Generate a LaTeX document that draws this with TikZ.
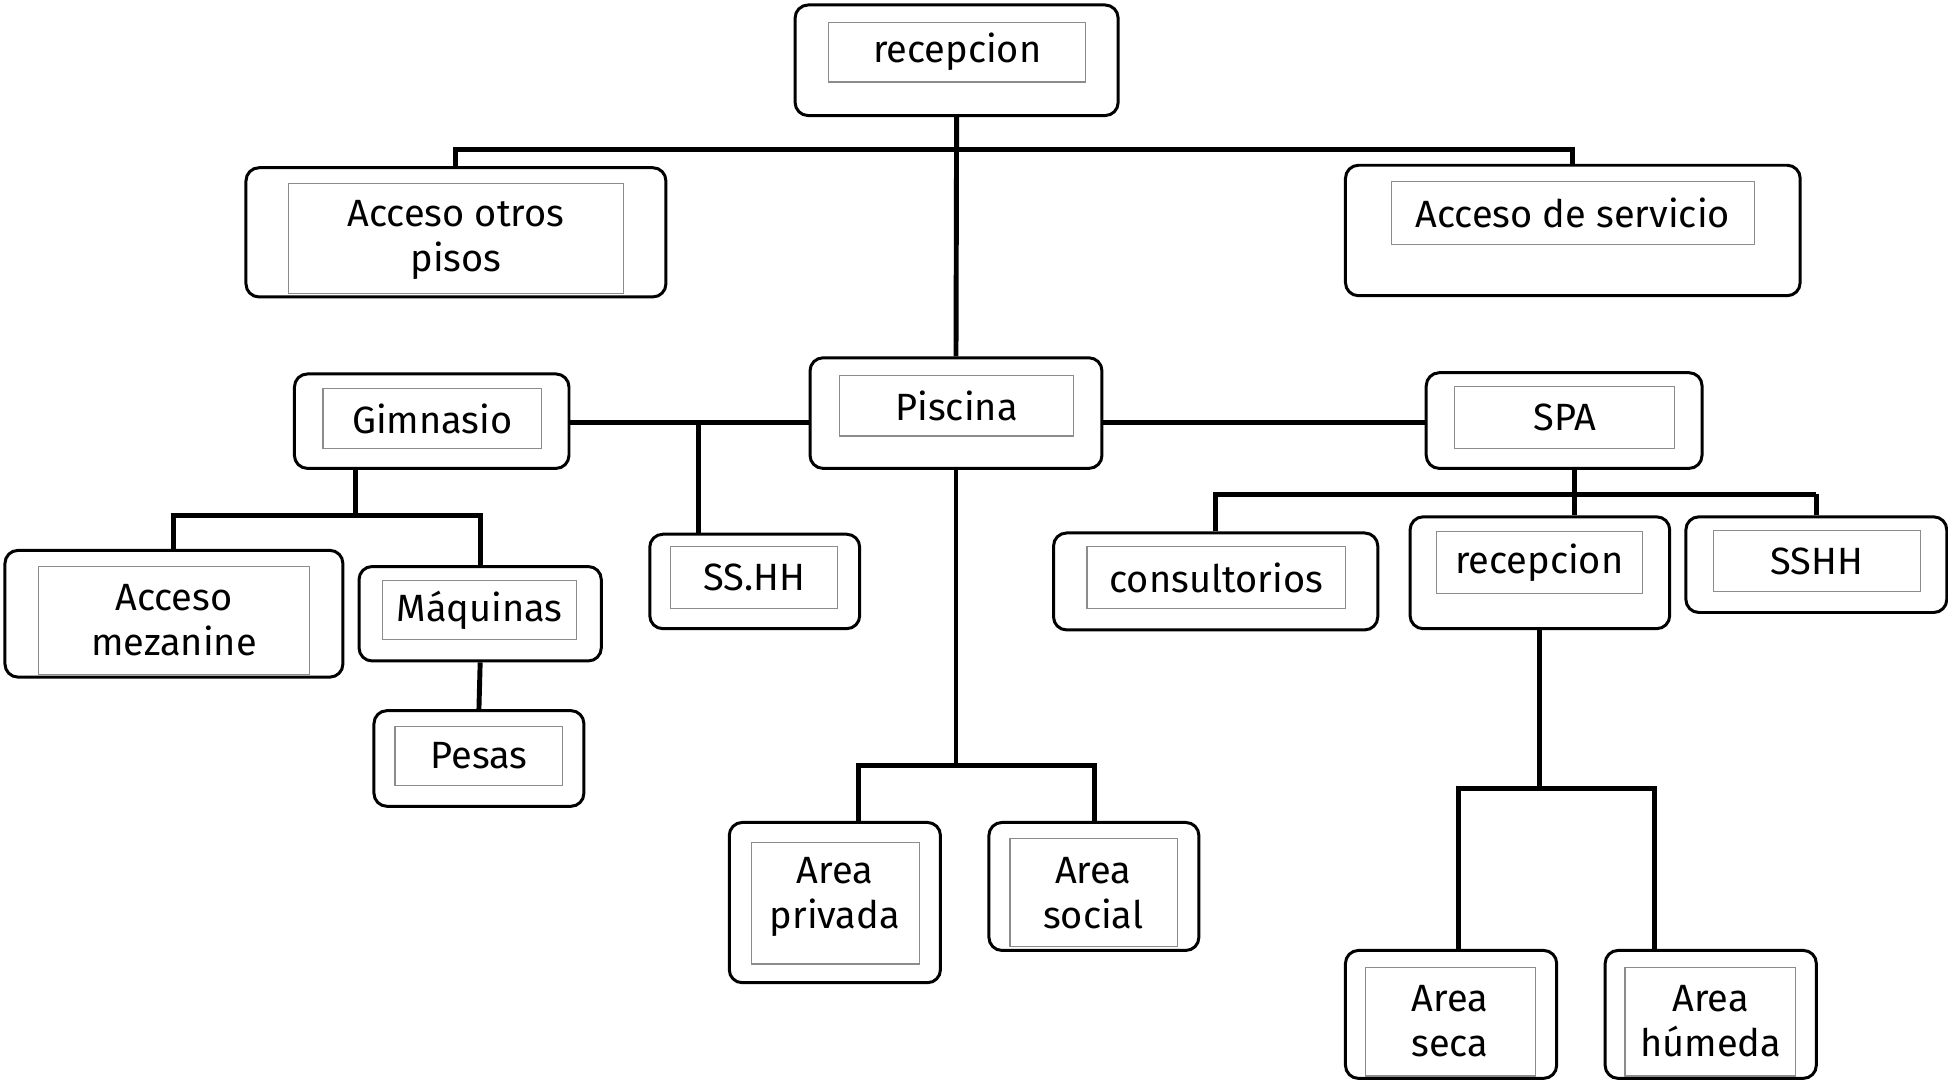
\documentclass[tikz,border=0pt]{standalone}
\usepackage{fontspec}
\setmainfont{Fira Sans}
\usepackage{tikz}
\usetikzlibrary{fit}

\begin{document}
\begin{tikzpicture}[x=0.012423cm,y=-0.012423cm]
\tikzstyle{every node}+=[inner sep=0pt]
\tikzstyle{caja}=[draw=black, line width=0.85pt, rounded corners=0.13cm]
\tikzstyle{marco}=[draw=black!45, line width=0.35pt]
\tikzstyle{texto}=[align=center, font=\fontsize{10.8}{12.7}\selectfont]
\tikzstyle{linea}=[black, line width=1.4pt]
\useasboundingbox (0,0) rectangle (1568,871);
% cajas
\node [caja, fit={(640,4) (900,93)}] (rec) {};
\node [marco, fit={(667,18) (874,66)}] (recM) {};
\node [texto] (recT) at (recM) {recepcion};
\node [caja, fit={(198,135) (536,239)}] (aop) {};
\node [marco, fit={(232,148) (502,236)}] (aopM) {};
\node [texto] (aopT) at (367,193) {Acceso otros\\pisos};
\node [caja, fit={(1083,133) (1449,238)}] (ser) {};
\node [marco, fit={(1120,146) (1412,197)}] (serM) {};
\node [texto] (serT) at (serM) {Acceso de servicio};
\node [caja, fit={(652,288) (887,377)}] (pis) {};
\node [marco, fit={(676,302) (864,351)}] (pisM) {};
\node [texto] (pisT) at (pisM) {Piscina};
\node [caja, fit={(237,301) (458,377)}] (gim) {};
\node [marco, fit={(260,313) (436,361)}] (gimM) {};
\node [texto] (gimT) at (gimM) {Gimnasio};
\node [caja, fit={(1148,300) (1370,377)}] (spa) {};
\node [marco, fit={(1171,311) (1348,361)}] (spaM) {};
\node [texto] (spaT) at (spaM) {SPA};
\node [caja, fit={(4,443) (276,545)}] (mez) {};
\node [marco, fit={(31,456) (249,543)}] (mezM) {};
\node [texto] (mezT) at (140,499) {Acceso\\mezanine};
\node [caja, fit={(289,456) (484,532)}] (maq) {};
\node [marco, fit={(308,467) (464,515)}] (maqM) {};
\node [texto] (maqT) at (maqM) {Máquinas};
\node [caja, fit={(301,572) (470,649)}] (pes) {};
\node [marco, fit={(318,585) (453,632)}] (pesM) {};
\node [texto] (pesT) at (pesM) {Pesas};
\node [caja, fit={(523,430) (692,506)}] (ssh) {};
\node [marco, fit={(540,440) (674,490)}] (sshM) {};
\node [texto] (sshT) at (sshM) {SS.HH};
\node [caja, fit={(848,429) (1109,507)}] (con) {};
\node [marco, fit={(875,440) (1083,490)}] (conM) {};
\node [texto] (conT) at (conM) {consultorios};
\node [caja, fit={(1135,416) (1344,506)}] (rsp) {};
\node [marco, fit={(1156,428) (1322,478)}] (rspM) {};
\node [texto] (rspT) at (rspM) {recepcion};
\node [caja, fit={(1357,416) (1567,493)}] (sshb) {};
\node [marco, fit={(1379,427) (1546,476)}] (sshbM) {};
\node [texto] (sshbT) at (sshbM) {SSHH};
\node [caja, fit={(587,662) (757,791)}] (apr) {};
\node [marco, fit={(605,678) (740,776)}] (aprM) {};
\node [texto] (aprT) at (672,722) {Area\\privada};
\node [caja, fit={(796,662) (965,765)}] (aso) {};
\node [marco, fit={(813,675) (948,762)}] (asoM) {};
\node [texto] (asoT) at (880,719) {Area\\social};
\node [caja, fit={(1083,765) (1253,868)}] (ase) {};
\node [marco, fit={(1099,779) (1236,866)}] (aseM) {};
\node [texto] (aseT) at (1167,822) {Area\\seca};
\node [caja, fit={(1292,765) (1462,868)}] (ahu) {};
\node [marco, fit={(1308,779) (1445,866)}] (ahuM) {};
\node [texto] (ahuT) at (1377,822) {Area\\húmeda};
% uniones
\coordinate (j1) at (770,120);
\coordinate (j2) at (562,340);
\coordinate (j3) at (286,415);
\coordinate (j4l) at (691,616);
\coordinate (j4r) at (881,616);
\coordinate (j5) at (1267,398);
\coordinate (j6l) at (1174,635);
\coordinate (j6r) at (1332,635);
% lineas
\draw [linea] (rec.south) -- (pis.north);
\draw [linea] (aop.north) |- (j1) -| (ser.north);
\draw [linea] (gim.east |- j2) -- (pis.west |- j2);
\draw [linea] (j2) -- (j2 |- ssh.north);
\draw [linea] (pis.east |- j2) -- (spa.west |- j2);
\draw [linea] (j3 |- gim.south) -- (j3);
\draw [linea] (mez.north) |- (j3) -| (maq.north);
\draw [linea] (maq.south) -- (pes.north);
\draw [linea] (pis.south) -- (pis.south |- j4l);
\draw [linea] (j4l |- apr.north) -- (j4l) -- (j4r) -- (j4r |- aso.north);
\draw [linea] (j5 |- spa.south) -- (j5 |- rsp.north);
\draw [linea] (con.north) |- (j5) -| (j5 -| sshb.north);
\draw [linea] (j5 -| sshb.north) -- (sshb.north);
\draw [linea] (rsp.south) -- (rsp.south |- j6l);
\draw [linea] (j6l |- ase.north) -- (j6l) -- (j6r) -- (j6r |- ahu.north);
\end{tikzpicture}
\end{document}
